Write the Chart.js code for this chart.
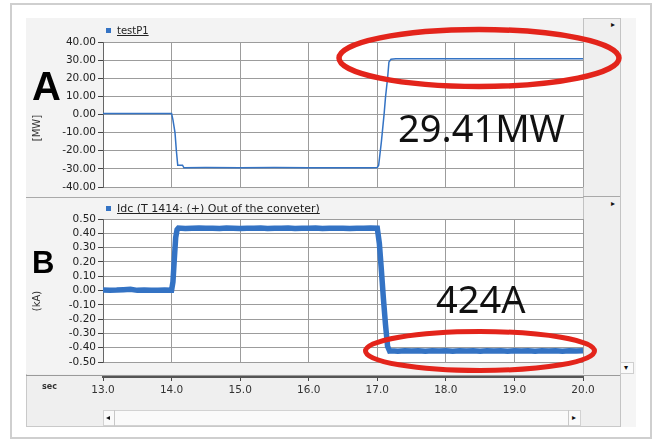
<!DOCTYPE html>
<html><head><meta charset="utf-8">
<script src="https://cdn.jsdelivr.net/npm/chart.js@4.4.0/dist/chart.umd.min.js"></script>
<style>
body{margin:0;background:#fff;width:661px;height:446px;overflow:hidden;position:relative;font-family:"DejaVu Sans",sans-serif;}
.abs{position:absolute;}
canvas{position:absolute;}
.leg{position:absolute;color:#222;text-decoration:underline;white-space:nowrap;line-height:12px;}
.sw{position:absolute;width:5px;height:5px;background:#2f6fc0;}
.ytitle{position:absolute;font-size:10px;color:#333;white-space:nowrap;transform:translate(-50%,-50%) rotate(-90deg);}
.big{position:absolute;font-family:"Liberation Sans",Arial,sans-serif;font-weight:bold;color:#000;line-height:1;}
.ann{position:absolute;font-family:"Noto Sans",sans-serif;font-size:38px;line-height:1;color:#111;white-space:nowrap;}
.arr{position:absolute;font-size:8px;color:#111;line-height:8px;}
</style>
</head><body>
<div class="abs" style="left:10px;top:3px;width:642px;height:436px;border:2px solid #cfcfcf;box-sizing:border-box;"></div>
<div class="abs" style="left:26px;top:18px;width:610px;height:409px;background:#efefef;border:1px solid #c9c9c9;box-sizing:border-box;"></div>
<div class="abs" style="left:620px;top:18px;width:16px;height:409px;background:#f5f5f5;border-left:1px solid #c4c4c4;box-sizing:border-box;"></div>
<div class="abs" style="left:26px;top:18px;width:558px;height:180px;background:#f3f3f3;border-right:1px solid #c2c2c2;border-bottom:1px solid #a9a9a9;box-sizing:border-box;"></div>
<div class="abs" style="left:583px;top:196px;width:37px;height:1px;background:#a9a9a9;"></div>
<div class="abs" style="left:26px;top:198px;width:558px;height:176px;background:#f3f3f3;border-right:1px solid #c2c2c2;box-sizing:border-box;"></div>
<div class="abs" style="left:26px;top:375px;width:594px;height:1px;background:#9a9a9a;"></div>
<div class="abs" style="left:620px;top:362px;width:14px;height:12px;background:#fafafa;border:1px solid #cfcfcf;box-sizing:border-box;"></div>
<div class="abs" style="left:103px;top:410px;width:478px;height:16px;background:#fafafa;border:1px solid #d2d2d2;box-sizing:border-box;"></div>
<div class="abs" style="left:103px;top:410px;width:12px;height:16px;border-right:1px solid #c8c8c8;box-sizing:border-box;"></div>
<div class="abs" style="left:568px;top:410px;width:13px;height:16px;border-left:1px solid #c8c8c8;box-sizing:border-box;"></div>

<canvas id="cA" width="558" height="180" style="left:26px;top:18px;"></canvas>
<canvas id="cB" width="558" height="174" style="left:26px;top:198px;"></canvas>
<canvas id="cX" width="574" height="40" style="left:26px;top:362px;"></canvas>

<div id="legA"></div>
<div id="legB"></div>

<div class="ytitle" style="left:36px;top:128px;">[MW]</div>
<div class="ytitle" style="left:36px;top:301px;">(kA)</div>
<div class="abs" style="left:42px;top:382px;font-size:8px;font-weight:bold;color:#333;">sec</div>

<div class="big" style="left:32px;top:66px;font-size:40px;">A</div>
<div class="big" style="left:32px;top:247px;font-size:31px;">B</div>

<div class="ann" style="left:398px;top:108px;">29.41MW</div>
<div class="ann" style="left:436px;top:279px;">424A</div>

<div class="arr" style="left:611px;top:21px;">&#9656;</div>
<div class="arr" style="left:611px;top:200px;">&#9656;</div>
<div class="arr" style="left:624px;top:364px;">&#9662;</div>
<div class="arr" style="left:106px;top:414px;">&#9666;</div>
<div class="arr" style="left:572px;top:414px;">&#9656;</div>

<svg class="abs" style="left:0;top:0;" width="661" height="446">
  <ellipse cx="479" cy="58" rx="140" ry="28.5" fill="none" stroke="#e3241b" stroke-width="5.5"/>
  <ellipse cx="480" cy="351" rx="114.5" ry="19.5" fill="none" stroke="#e3241b" stroke-width="5"/>
</svg>

<script>
// ---- data ----
const labelA = 'testP1';
const labelB = 'Idc (T 1414: (+) Out of the conveter)';
const timeRange = [13, 20];
const rangeA = [-40, 40];
const stepA = 10;
const rangeB = [-0.5, 0.5];
const stepB = 0.1;

const timeA  = [13.0, 13.3, 13.6, 13.9, 14.0, 14.02, 14.05, 14.07, 14.09, 14.16, 14.18, 14.5, 15.0, 15.5, 16.0, 16.5, 16.9, 17.0, 17.02, 17.06, 17.1, 17.12, 17.15, 17.17, 17.2, 17.27, 17.5, 18.0, 19.0, 20.0];
const powerA = [0.6, 0.5, 0.6, 0.6, 0.6, -3, -10, -20, -28, -28, -29.4, -29.3, -29.4, -29.3, -29.4, -29.4, -29.4, -29.2, -28, -15, 0.5, 9.6, 20, 29, 30.5, 30.8, 30.8, 30.8, 30.8, 30.8];

const timeB = [13.0,13.1,13.2,13.3,13.4,13.5,13.6,13.7,13.8,13.9,14.0,
  14.02,14.04,14.06,14.08,
  14.1,14.2,14.3,14.4,14.5,14.6,14.7,14.8,14.9,15.0,15.1,15.2,15.3,15.4,15.5,15.6,15.7,15.8,15.9,16.0,16.1,16.2,16.3,16.4,16.5,16.6,16.7,16.8,16.9,17.0,
  17.03,17.06,17.09,17.12,17.15,17.18,
  17.2,17.3,17.4,17.5,17.6,17.7,17.8,17.9,18.0,18.1,18.2,18.3,18.4,18.5,18.6,18.7,18.8,18.9,19.0,19.1,19.2,19.3,19.4,19.5,19.6,19.7,19.8,19.9,20.0];
const currentB = [0.004,0.002,0.003,0.006,0.008,0.001,0.003,0.002,0.002,0.003,0.002,
  0.06,0.22,0.37,0.425,
  0.437,0.434,0.436,0.437,0.435,0.436,0.434,0.437,0.435,0.434,0.436,0.435,0.437,0.434,0.436,0.435,0.437,0.434,0.436,0.435,0.437,0.434,0.436,0.435,0.436,0.434,0.436,0.435,0.437,0.436,
  0.33,0.14,-0.06,-0.24,-0.39,-0.423,
  -0.422,-0.424,-0.421,-0.423,-0.422,-0.424,-0.421,-0.423,-0.422,-0.424,-0.421,-0.423,-0.422,-0.424,-0.421,-0.423,-0.422,-0.424,-0.421,-0.423,-0.422,-0.424,-0.421,-0.423,-0.422,-0.424,-0.421,-0.423,-0.422];

// ---- charts ----
Chart.defaults.font.family = '"DejaVu Sans", sans-serif';
const plotBg = {id:'plotBg', beforeDraw(c){const a=c.chartArea; if(!a) return; const x=c.ctx; x.save(); x.fillStyle='#ffffff'; x.fillRect(a.left,a.top,a.right-a.left,a.bottom-a.top); x.restore();}};

function panel(id, times, values, label, range, step, width, padTop, padBottom){
  return new Chart(document.getElementById(id), {
    type:'line',
    data:{datasets:[{label:label, data:times.map((t,i)=>({x:t,y:values[i]})), borderColor:'#3473c4', borderWidth:width, pointRadius:0, tension:0, fill:false}]},
    options:{
      responsive:false, animation:false, devicePixelRatio:1,
      layout:{padding:{left:0,right:1,top:padTop,bottom:padBottom}},
      plugins:{legend:{display:false}, tooltip:{enabled:false}},
      scales:{
        x:{type:'linear', min:timeRange[0], max:timeRange[1], ticks:{display:false, stepSize:1},
           grid:{color:'#9c9c9c', drawTicks:false, lineWidth:1}, border:{display:false}},
        y:{min:range[0], max:range[1], ticks:{stepSize:step, autoSkip:false, color:'#222', font:{size:10.5}, padding:2, callback:v=>Number(v).toFixed(2)},
           grid:{color:'#9c9c9c', tickColor:'#444', tickLength:5},
           border:{color:'#666', width:1},
           afterFit:s=>{s.width=77;}}
      }
    },
    plugins:[plotBg]
  });
}
const chA = panel('cA', timeA, powerA, labelA, rangeA, stepA, 1.5, 24, 11);
const chB = panel('cB', timeB, currentB, labelB, rangeB, stepB, 5.5, 21, 10);

new Chart(document.getElementById('cX'), {
  type:'scatter',
  data:{datasets:[]},
  options:{
    responsive:false, animation:false, devicePixelRatio:1,
    layout:{padding:{left:77,right:17,top:0,bottom:0}},
    plugins:{legend:{display:false}, tooltip:{enabled:false}},
    scales:{
      x:{type:'linear', position:'bottom', min:timeRange[0], max:timeRange[1],
         ticks:{stepSize:1, color:'#333', font:{size:10.5}, padding:3, maxRotation:0, callback:v=>Number(v).toFixed(1)},
         grid:{drawOnChartArea:false, tickLength:4, tickColor:'#444'},
         border:{color:'#555', width:2},
         afterFit:s=>{s.height=25;}},
      y:{display:false, min:0, max:1}
    }
  }
});

// ---- legends built from the dataset labels ----
function legend(elId, chart, left, top, size){
  const el = document.getElementById(elId);
  const ds = chart.data.datasets[0];
  el.innerHTML = '<div class="sw" style="left:'+left+'px;top:'+(top+3)+'px;background:'+ds.borderColor+'"></div>'+
                 '<div class="leg" style="left:'+(left+11)+'px;top:'+top+'px;font-size:'+size+'px;">'+ds.label+'</div>';
}
legend('legA', chA, 106, 25, 10);
legend('legB', chB, 106, 203, 11);
</script>
</body></html>
